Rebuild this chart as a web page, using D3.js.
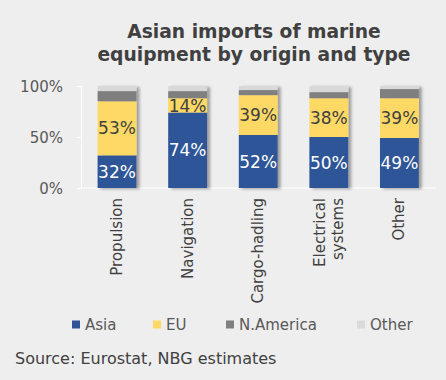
<!DOCTYPE html>
<html><head><meta charset="utf-8">
<script src="https://cdn.jsdelivr.net/npm/d3@7"></script>
<style>html,body{margin:0;padding:0;background:#eeeeee;}svg{display:block;}</style>
</head><body>
<svg id="c" width="446" height="380"></svg>
<script>
const categories = [["Propulsion"],["Navigation"],["Cargo-hadling"],["Electrical","systems"],["Other"]];
const seriesNames = ["Asia","EU","N.America","Other"];
const asia = [32,74,52,50,49];
const eu = [53,14,39,38,39];
const nAmerica = [10,7,5,6,9];
const other = [5,5,4,6,3];
const yTicks = [0,50,100];
const colors = ["#2f5597","#ffd966","#7f7f7f","#d9d9d9"];

const svg = d3.select("#c");
const font = "DejaVu Sans, Verdana, sans-serif";
svg.append("rect").attr("width",446).attr("height",380).attr("fill","#eeeeee");

const defs = svg.append("defs");
const f = defs.append("filter").attr("id","sh").attr("x","-20%").attr("y","-20%").attr("width","150%").attr("height","150%");
f.append("feDropShadow").attr("dx",3).attr("dy",1).attr("stdDeviation",1.6).attr("flood-color","#000").attr("flood-opacity",0.35);

const title = svg.append("text").attr("text-anchor","middle").attr("font-family",font)
  .attr("font-weight","bold").attr("font-size",18.7).attr("fill","#404040");
title.append("tspan").attr("x",254).attr("y",38).text("Asian imports of marine");
title.append("tspan").attr("x",254).attr("y",61).text("equipment by origin and type");

const x = d3.scaleBand().domain(d3.range(categories.length)).range([81.7,434.7]).paddingInner(0.45).paddingOuter(0.225);
const y = d3.scaleLinear().domain([0,100]).range([188,86]);

const rows = categories.map((c,i)=>({i, Asia:asia[i], EU:eu[i], "N.America":nAmerica[i], Other:other[i]}));
const stack = d3.stack().keys(seriesNames)(rows);

// axes
const yAxis = d3.axisLeft(y).tickValues(yTicks).tickSize(4).tickFormat(d=>d+"%");
const ya = svg.append("g").attr("transform","translate(81,0)").call(yAxis);
ya.select(".domain").attr("stroke","#ffffff").attr("stroke-width",1.2);
ya.selectAll(".tick line").attr("stroke","#ffffff");
ya.selectAll(".tick text").attr("font-family",font).attr("font-size",15).attr("fill","#595959").attr("x",-18).attr("dy","0.35em");

svg.append("line").attr("x1",81).attr("x2",436).attr("y1",y(0)).attr("y2",y(0)).attr("stroke","#ffffff").attr("stroke-width",1.2);

const bars = svg.append("g").attr("filter","url(#sh)");
stack.forEach((s,k)=>{
  bars.append("g").attr("fill",colors[k]).selectAll("rect").data(s).join("rect")
    .attr("x",d=>x(d.data.i)).attr("width",x.bandwidth())
    .attr("y",d=>y(d[1])).attr("height",d=>y(d[0])-y(d[1]));
});

// labels for Asia and EU
[0,1].forEach(k=>{
  svg.append("g").selectAll("text").data(stack[k]).join("text")
    .attr("x",d=>x(d.data.i)+x.bandwidth()/2)
    .attr("y",d=>(y(d[0])+y(d[1]))/2).attr("dy","0.36em")
    .attr("text-anchor","middle").attr("font-family",font).attr("font-size",17)
    .attr("fill",k===0?"#ffffff":"#404040")
    .text(d=>(d[1]-d[0])+"%");
});

// category labels rotated
categories.forEach((lines,i)=>{
  const cx = x(i)+x.bandwidth()/2;
  const n = lines.length;
  lines.forEach((t,j)=>{
    const off = (j-(n-1)/2)*18;
    svg.append("text").attr("transform",`translate(${cx+off+5},198) rotate(-90)`)
      .attr("text-anchor","end").attr("font-family",font).attr("font-size",15)
      .attr("fill","#404040").text(t);
  });
});

// legend
const legX = [72,153,226,357];
seriesNames.forEach((n,k)=>{
  svg.append("rect").attr("x",legX[k]).attr("y",320.5).attr("width",8).attr("height",8).attr("fill",colors[k]);
  svg.append("text").attr("x",legX[k]+13).attr("y",330).attr("font-family",font).attr("font-size",15)
    .attr("fill","#595959").text(n);
});

svg.append("text").attr("x",15).attr("y",364).attr("font-family",font).attr("font-size",16)
  .attr("fill","#404040").text("Source: Eurostat, NBG estimates");
</script>
</body></html>
